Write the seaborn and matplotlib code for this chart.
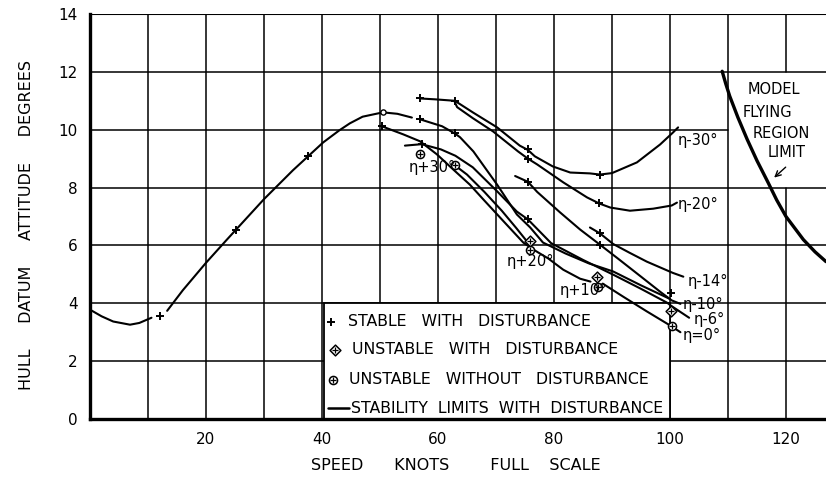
import numpy as np
import matplotlib
matplotlib.use("Agg")
import matplotlib.pyplot as plt
from matplotlib.patches import Rectangle
import seaborn as sns

# ---------------- data ----------------
base1_x = [0, 2, 4, 6.9, 8.5, 10.6]
base1_y = [3.78, 3.55, 3.37, 3.26, 3.32, 3.5]
base2_x = [13.3, 16, 20, 23.6, 25.2, 30, 35, 37.6, 40.2, 43, 44.8, 47, 50.5, 53, 55.5]
base2_y = [3.74, 4.45, 5.4, 6.2, 6.55, 7.6, 8.6, 9.08, 9.56, 9.98, 10.22, 10.45, 10.6, 10.55, 10.42]

eta30_x = [56.9, 59.5, 62.9, 66, 70.2, 74.1, 75.5, 76.7, 79.8, 82.8, 86.2, 87.9, 90, 94.3, 98.3, 100.5, 101.4]
eta30_y = [11.08, 11.05, 11.0, 10.6, 10.08, 9.45, 9.3, 9.08, 8.73, 8.52, 8.49, 8.45, 8.5, 8.87, 9.49, 9.9, 10.08]

eta20_x = [62.9, 63.3, 66, 69.5, 73.8, 75.5, 77.1, 81.6, 85.7, 87.8, 89.7, 93.1, 97.1, 100.3, 101.2]
eta20_y = [10.95, 10.78, 10.4, 9.94, 9.25, 9.0, 8.8, 8.18, 7.66, 7.45, 7.31, 7.2, 7.27, 7.38, 7.48]

eta14_x = [86.2, 87.9, 90.2, 93, 96, 100.5, 102.3]
eta14_y = [6.62, 6.42, 6.05, 5.75, 5.44, 5.05, 4.92]

la_x = [73.3, 75.5, 77.1, 81, 84.5, 87.9, 91, 94.5, 98.3, 100.3, 101.8]
la_y = [8.4, 8.2, 7.85, 7.15, 6.55, 6.03, 5.55, 5.0, 4.4, 4.1, 3.98]

a_x = [56.9, 60.7, 62.9, 63.8, 66.1, 70.2, 73.6, 75.9, 78.1, 82, 86, 90.2, 95, 100]
a_y = [10.36, 10.12, 9.87, 9.74, 9.25, 8.1, 7.07, 6.62, 6.1, 5.72, 5.38, 5.1, 4.62, 4.15]

b2_x = [54.3, 57.2, 60.5, 63, 66, 70.2, 73.6, 75.5, 79.5, 85, 90.2, 95, 99.5, 100.3, 103.3]
b2_y = [9.45, 9.5, 9.32, 9.1, 8.7, 7.87, 7.17, 6.9, 6.08, 5.5, 4.99, 4.5, 4.02, 3.9, 3.5]

b1_x = [50.3, 54, 56.9, 59.8, 62.6, 65.5, 68, 71, 74.7, 76.5, 79, 81.6, 84.5, 86.3]
b1_y = [10.12, 9.84, 9.6, 9.15, 8.63, 8.1, 7.55, 6.9, 6.1, 5.85, 5.55, 5.16, 4.85, 4.75]

p20_x = [62.9, 65, 68, 71, 73.5, 75.9]
p20_y = [8.77, 8.45, 7.85, 7.2, 6.6, 6.0]

eta0_x = [88.4, 92, 96, 100.3, 101.8]
eta0_y = [4.68, 4.22, 3.72, 3.2, 3.0]

limit_x = [109.0, 109.6, 110.3, 111.7, 113.3, 115.0, 116.9, 118.4, 120.0, 123.0, 125.0, 126.9]
limit_y = [12.02, 11.6, 11.16, 10.43, 9.67, 8.93, 8.18, 7.57, 7.0, 6.2, 5.78, 5.44]

stable_x = [12.1, 25.2, 37.6, 50.3, 56.9, 62.9, 56.9, 62.9, 57.2, 75.5, 75.5, 75.5, 75.5, 87.9, 87.8, 87.9, 87.9, 100.2]
stable_y = [3.57, 6.55, 9.08, 10.12, 11.08, 11.0, 10.36, 9.87, 9.5, 9.35, 9.0, 8.2, 6.9, 8.45, 7.45, 6.44, 6.03, 4.35]

unst_dist_x = [75.9, 87.4, 100.2]
unst_dist_y = [6.15, 4.92, 3.75]

unst_nodist_x = [56.9, 62.9, 75.9, 87.6, 100.3]
unst_nodist_y = [9.15, 8.77, 5.85, 4.55, 3.2]

eta_labels = ["η-30°", "η-20°", "η-14°", "η-10°", "η-6°", "η=0°", "η+30°", "η+20°", "η+10°"]
eta_lab_x = [101.4, 101.4, 103.0, 102.2, 104.0, 102.2, 54.9, 71.9, 81.0]
eta_lab_y = [9.63, 7.4, 4.75, 3.95, 3.45, 2.9, 8.7, 5.43, 4.43]

legend_labels = ["STABLE   WITH   DISTURBANCE", "UNSTABLE   WITH   DISTURBANCE",
                 "UNSTABLE   WITHOUT   DISTURBANCE", "STABILITY  LIMITS  WITH  DISTURBANCE"]

x_ticks = [20, 40, 60, 80, 100, 120]
y_ticks = [0, 2, 4, 6, 8, 10, 12, 14]

# ---------------- figure ----------------
sns.set_style("white")
plt.rcParams['font.family'] = ['DejaVu Sans']
plt.rcParams['text.color'] = 'black'
plt.rcParams['xtick.color'] = 'black'
plt.rcParams['ytick.color'] = 'black'
plt.rcParams['axes.labelcolor'] = 'black'

fig = plt.figure(figsize=(8.26, 4.78), dpi=100)
ax = fig.add_axes([90/826, 1-419/478, (826-90)/826, (419-14)/478])
ax.set_xlim(0, 126.9)
ax.set_ylim(0, 14)

K = 'black'
GLW = 1.1
# grid
for gx in range(10, 130, 10):
    if gx == 120:
        ax.plot([gx, gx], [0, 8], color=K, lw=GLW, zorder=1)
        ax.plot([gx, gx], [12, 14], color=K, lw=GLW, zorder=1)
    else:
        ax.plot([gx, gx], [0, 14], color=K, lw=GLW, zorder=1)
for gy in range(2, 16, 2):
    xmax = 110 if gy == 10 else 126.9
    ax.plot([0, xmax], [gy, gy], color=K, lw=GLW if gy < 14 else 1.5, zorder=1)

# legend box
ax.add_patch(Rectangle((40.3, 0), 100 - 40.3, 4.0, facecolor='white', edgecolor=K, lw=1.3, zorder=2))

LW = 1.5
def curve(x, y, lw=LW):
    sns.lineplot(x=x, y=y, sort=False, estimator=None, color=K, lw=lw, ax=ax, zorder=3)

curve(base1_x, base1_y)
curve(base2_x, base2_y)
curve(eta30_x, eta30_y)
curve(eta20_x, eta20_y)
curve(eta14_x, eta14_y)
curve(la_x, la_y)
curve(a_x, a_y)
curve(b2_x, b2_y)
curve(b1_x, b1_y)
curve(p20_x, p20_y)
curve(eta0_x, eta0_y)
curve(limit_x, limit_y, lw=2.4)

def plus_marks(x, y, s=40):
    sns.scatterplot(x=x, y=y, marker='+', s=s, color=K, linewidth=1.4, ax=ax, zorder=5, legend=False)

def circ_plus(x, y):
    sns.scatterplot(x=x, y=y, marker='o', s=34, facecolor='white', edgecolor=K, linewidth=1.1, ax=ax, zorder=5, legend=False)
    sns.scatterplot(x=x, y=y, marker='+', s=20, color=K, linewidth=0.9, ax=ax, zorder=6, legend=False)

def diam_plus(x, y):
    sns.scatterplot(x=x, y=y, marker='D', s=30, facecolor='white', edgecolor=K, linewidth=1.1, ax=ax, zorder=5, legend=False)
    sns.scatterplot(x=x, y=y, marker='+', s=20, color=K, linewidth=0.9, ax=ax, zorder=6, legend=False)

plus_marks(stable_x, stable_y)
diam_plus(unst_dist_x, unst_dist_y)
circ_plus(unst_nodist_x, unst_nodist_y)
sns.scatterplot(x=[50.5], y=[10.6], marker='o', s=14, facecolor='white', edgecolor=K, linewidth=1.0, ax=ax, zorder=5, legend=False)

# eta labels
for t, lx, ly in zip(eta_labels, eta_lab_x, eta_lab_y):
    ax.text(lx, ly, t, fontsize=10.5, ha='left', va='center', zorder=7)

# model flying region limit
for t, lx, ly in zip(["MODEL", "FLYING", "REGION", "LIMIT"], [113.4, 112.6, 114.3, 116.9], [11.4, 10.6, 9.87, 9.22]):
    ax.text(lx, ly, t, fontsize=10.5, ha='left', va='center', zorder=7)
ax.annotate("", xy=(117.6, 8.28), xytext=(120.3, 8.77),
            arrowprops=dict(arrowstyle='->', color=K, lw=1.0), zorder=7)

# legend contents
leg_rows = [3.36, 2.39, 1.35, 0.38]
plus_marks([41.6], [leg_rows[0]])
diam_plus([42.2], [leg_rows[1]])
circ_plus([41.9], [leg_rows[2]])
ax.plot([41.0, 44.7], [leg_rows[3], leg_rows[3]], color=K, lw=1.8, zorder=5)
for t, ly, lx in zip(legend_labels, leg_rows, [44.5, 45.2, 44.6, 45.0]):
    ax.text(lx, ly, t, fontsize=11.3, ha='left', va='center', zorder=7)

# axes styling
ax.set_xticks(x_ticks)
ax.set_yticks(y_ticks)
ax.set_xticklabels([str(v) for v in x_ticks], fontsize=11)
ax.set_yticklabels([str(v) for v in y_ticks], fontsize=11)
ax.tick_params(length=0, pad=9, colors=K)
for s in ['top', 'right']:
    ax.spines[s].set_visible(False)
ax.spines['left'].set_linewidth(2.4)
ax.spines['bottom'].set_linewidth(2.4)
ax.spines['left'].set_color(K)
ax.spines['bottom'].set_color(K)
ax.set_xlabel("")
ax.set_ylabel("")

fig.text(456/826, 1-466/478, "SPEED      KNOTS        FULL    SCALE", ha='center', va='center', fontsize=11.5)
fig.text(27/826, 1-225/478, "HULL     DATUM     ATTITUDE     DEGREES", ha='center', va='center', rotation=90, fontsize=11.5)

fig.savefig("out.png", dpi=100)
